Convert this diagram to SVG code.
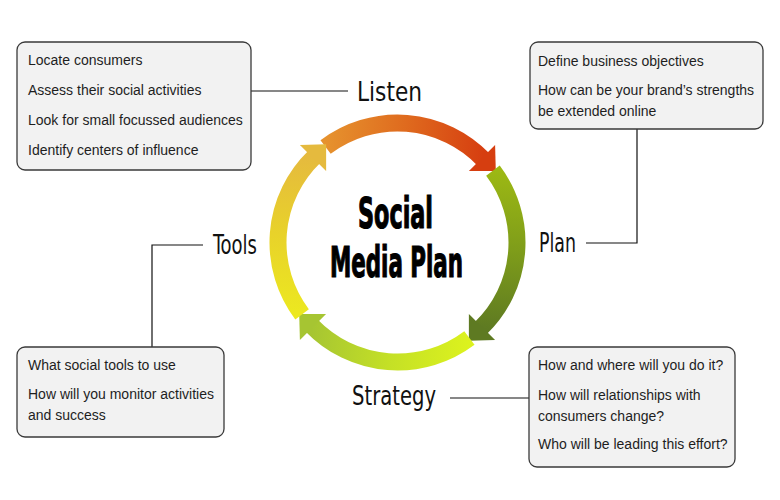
<svg xmlns="http://www.w3.org/2000/svg" width="780" height="500" viewBox="0 0 780 500">
  <style>
    .box { fill: #f2f2f2; stroke: #3a3a3a; stroke-width: 1.3; }
    .txt { font-family: "Liberation Sans", Arial, sans-serif; font-size: 14px; fill: #1e1e1e; }
    .lbl { font-family: "DejaVu Sans Condensed", "Liberation Sans", sans-serif; font-size: 27px; fill: #111; }
    .title { font-family: "DejaVu Sans Condensed", "Liberation Sans", sans-serif; font-weight: bold; font-size: 43px; fill: #000; stroke: #000; stroke-width: 1.2; }
    .conn { fill: none; stroke: #111; stroke-width: 1.2; }
    .ring { fill: none; stroke-width: 17; }
  </style>
  <defs>
    <linearGradient id="g1" gradientUnits="userSpaceOnUse" x1="-72" y1="-95" x2="86" y2="-84">
      <stop offset="0" stop-color="#e6922e"/>
      <stop offset="0.5" stop-color="#df6a1e"/>
      <stop offset="1" stop-color="#d63e10"/>
    </linearGradient>
    <linearGradient id="g2" gradientUnits="userSpaceOnUse" x1="-72" y1="-95" x2="86" y2="-84">
      <stop offset="0" stop-color="#9cb814"/>
      <stop offset="0.5" stop-color="#7e9c1a"/>
      <stop offset="1" stop-color="#5e7a22"/>
    </linearGradient>
    <linearGradient id="g3" gradientUnits="userSpaceOnUse" x1="-72" y1="-95" x2="86" y2="-84">
      <stop offset="0" stop-color="#dcf21e"/>
      <stop offset="0.5" stop-color="#c4e026"/>
      <stop offset="1" stop-color="#a6c532"/>
    </linearGradient>
    <linearGradient id="g4" gradientUnits="userSpaceOnUse" x1="-72" y1="-95" x2="86" y2="-84">
      <stop offset="0" stop-color="#ece820"/>
      <stop offset="0.5" stop-color="#e8d22a"/>
      <stop offset="1" stop-color="#e5ba3e"/>
    </linearGradient>
    <path id="arc" d="M -71.92 -95.43 A 119.5 119.5 0 0 1 85.96 -83.01"/>
    <path id="head" d="M 71.4 -71.4 L 97.6 -97.6 L 98.3 -71.4 Z"/>
  </defs>

  <rect width="780" height="500" fill="#ffffff"/>

  <g id="cycle" transform="translate(397.5,242.5)">
    <g id="seg-listen">
      <use href="#arc" class="ring" stroke="url(#g1)"/>
      <use href="#head" fill="#d63e10"/>
    </g>
    <g id="seg-plan" transform="rotate(90)">
      <use href="#arc" class="ring" stroke="url(#g2)"/>
      <use href="#head" fill="#5e7a22"/>
    </g>
    <g id="seg-strategy" transform="rotate(180)">
      <use href="#arc" class="ring" stroke="url(#g3)"/>
      <use href="#head" fill="#a6c532"/>
    </g>
    <g id="seg-tools" transform="rotate(270)">
      <use href="#arc" class="ring" stroke="url(#g4)"/>
      <use href="#head" fill="#e5ba3e"/>
    </g>
  </g>

  <g id="title">
    <text class="title" transform="translate(358,228) scale(0.5,1)" x="0" y="0" textLength="150" lengthAdjust="spacingAndGlyphs">Social</text>
    <text class="title" transform="translate(330,277) scale(0.5,1)" x="0" y="0" textLength="266" lengthAdjust="spacingAndGlyphs">Media Plan</text>
  </g>

  <g id="connectors">
    <line class="conn" x1="251" y1="91" x2="348" y2="91"/>
    <polyline class="conn" points="586,243 637,243 637,129"/>
    <polyline class="conn" points="152,347 152,245 203,245"/>
    <line class="conn" x1="450" y1="398" x2="529" y2="398"/>
  </g>

  <g id="labels">
    <text id="lbl-listen" class="lbl" x="357" y="101" textLength="65" lengthAdjust="spacingAndGlyphs">Listen</text>
    <text id="lbl-plan" class="lbl" x="539" y="252" textLength="37" lengthAdjust="spacingAndGlyphs">Plan</text>
    <text id="lbl-tools" class="lbl" x="213" y="254" textLength="44" lengthAdjust="spacingAndGlyphs">Tools</text>
    <text id="lbl-strategy" class="lbl" x="352" y="405" textLength="84" lengthAdjust="spacingAndGlyphs">Strategy</text>
  </g>

  <g id="box-listen">
    <rect class="box" x="17" y="42" width="234" height="128" rx="8"/>
    <text class="txt" x="28" y="65">Locate consumers</text>
    <text class="txt" x="28" y="95">Assess their social activities</text>
    <text class="txt" x="28" y="125">Look for small focussed audiences</text>
    <text class="txt" x="28" y="155">Identify centers of influence</text>
  </g>

  <g id="box-plan">
    <rect class="box" x="530" y="42" width="233" height="87" rx="8"/>
    <text class="txt" x="538" y="66">Define business objectives</text>
    <text class="txt" x="538" y="95">How can be your brand’s strengths</text>
    <text class="txt" x="538" y="116">be extended online</text>
  </g>

  <g id="box-tools">
    <rect class="box" x="17" y="347" width="207" height="90" rx="8"/>
    <text class="txt" x="28" y="370">What social tools to use</text>
    <text class="txt" x="28" y="399">How will you monitor activities</text>
    <text class="txt" x="28" y="420">and success</text>
  </g>

  <g id="box-strategy">
    <rect class="box" x="529" y="347" width="206" height="120" rx="8"/>
    <text class="txt" x="538" y="370">How and where will you do it?</text>
    <text class="txt" x="538" y="400">How will relationships with</text>
    <text class="txt" x="538" y="421">consumers change?</text>
    <text class="txt" x="538" y="449">Who will be leading this effort?</text>
  </g>
</svg>
